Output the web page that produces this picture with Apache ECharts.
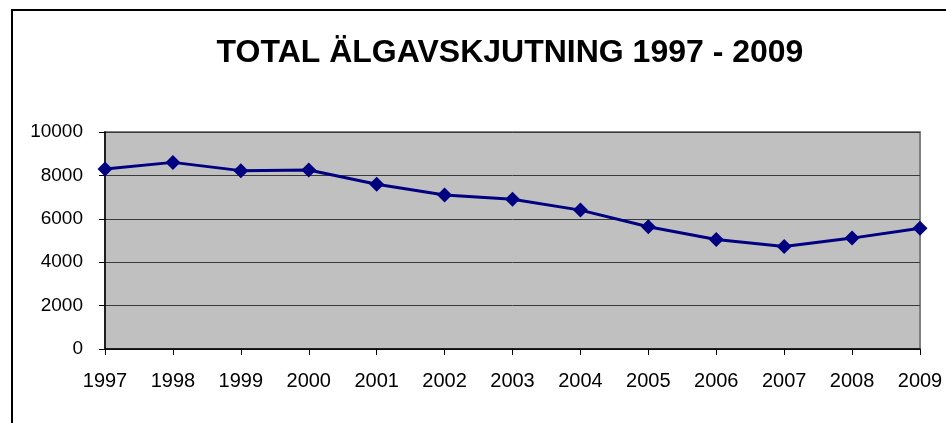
<!DOCTYPE html>
<html>
<head>
<meta charset="utf-8">
<script src="https://cdn.jsdelivr.net/npm/echarts@6/dist/echarts.min.js"></script>
<style>
html,body{margin:0;padding:0;background:#fff;}
#chart{width:946px;height:423px;}
</style>
</head>
<body>
<div id="chart"></div>
<script>
const titleText = 'TOTAL ÄLGAVSKJUTNING 1997 - 2009';
const years = ['1997','1998','1999','2000','2001','2002','2003','2004','2005','2006','2007','2008','2009'];
const harvest = [8300, 8600, 8220, 8250, 7590, 7100, 6900, 6400, 5630, 5050, 4720, 5110, 5560];
const yMin = 0, yMax = 10000, yStep = 2000;

const chart = echarts.init(document.getElementById('chart'), null, {renderer: 'canvas'});
chart.setOption({
  backgroundColor: '#ffffff',
  animation: false,
  textStyle: {fontFamily: 'Arial, "Liberation Sans", sans-serif'},
  graphic: [
    {type: 'rect', shape: {x: 12, y: 10, width: 980, height: 460}, style: {fill: 'none', stroke: '#000', lineWidth: 2}, z: 100},
    {type: 'text', x: 510, y: 53, style: {text: titleText, font: 'bold 32px Arial, "Liberation Sans", sans-serif', fill: '#000', textAlign: 'center', textVerticalAlign: 'middle'}}
  ],
  grid: {left: 105, right: 26, top: 132, bottom: 74, show: true, backgroundColor: '#C0C0C0', borderColor: '#808080', borderWidth: 2},
  xAxis: {
    type: 'category', data: years, boundaryGap: false,
    axisLine: {lineStyle: {color: '#000', width: 1.5}},
    axisTick: {show: true, length: 6, inside: false, lineStyle: {color: '#000', width: 1}},
    axisLabel: {color: '#000', fontSize: 20, margin: 22, fontFamily: 'Arial, "Liberation Sans", sans-serif'},
    splitLine: {show: false}
  },
  yAxis: {
    type: 'value', min: yMin, max: yMax, interval: yStep,
    axisLine: {show: true, lineStyle: {color: '#000', width: 1.5}},
    axisTick: {show: true, length: 6, lineStyle: {color: '#000', width: 1}},
    axisLabel: {color: '#000', fontSize: 19, margin: 22, formatter: v => String(v), fontFamily: 'Arial, "Liberation Sans", sans-serif'},
    splitLine: {show: true, lineStyle: {color: '#3a3a3a', width: 1}}
  },
  series: [{
    type: 'line', data: harvest,
    lineStyle: {color: '#000080', width: 3},
    itemStyle: {color: '#000080'},
    symbol: 'diamond', symbolSize: 15, showSymbol: true
  }]
});
</script>
</body>
</html>
